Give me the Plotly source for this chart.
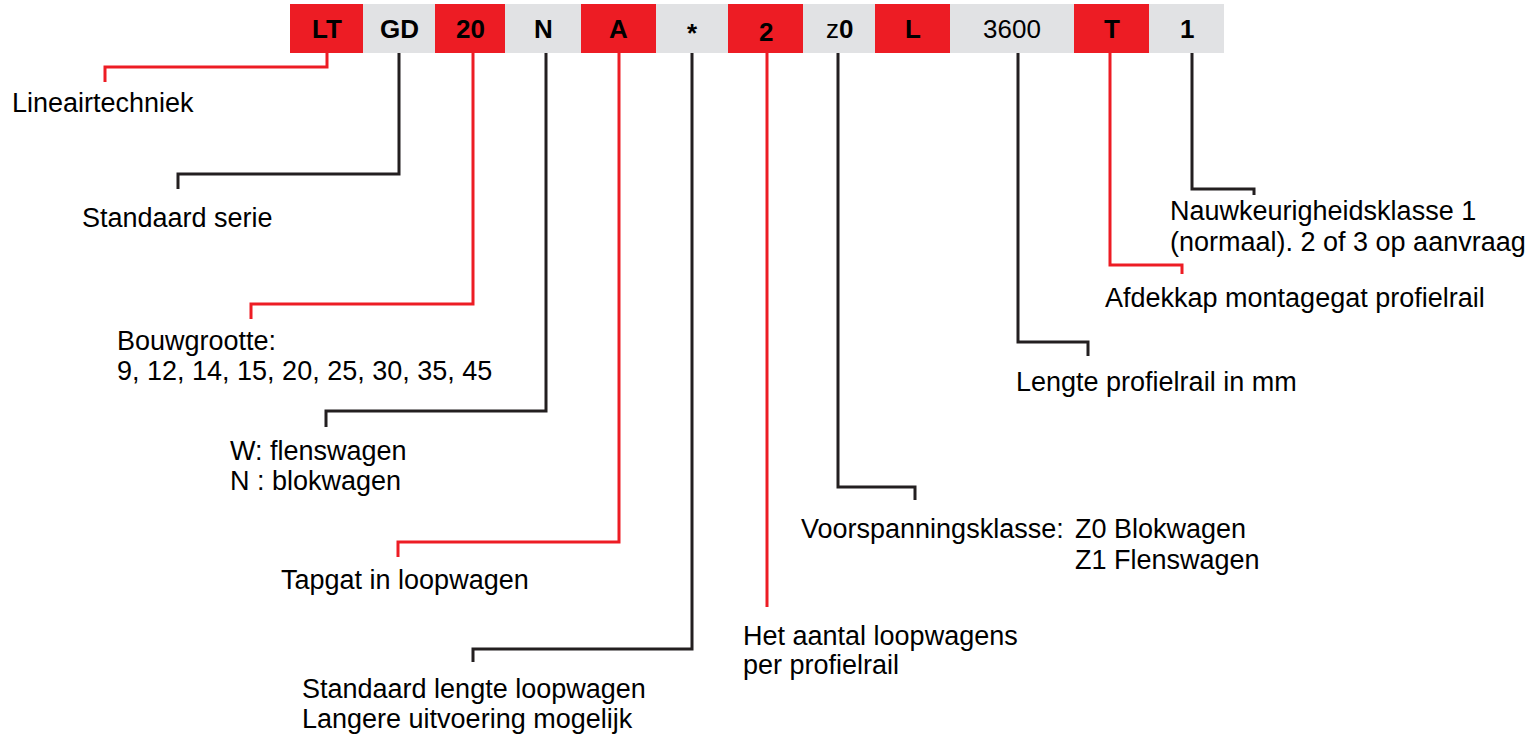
import plotly.graph_objects as go

W, H = 1534, 737

# ---- header code segments ----
codes = ["LT", "GD", "20", "N", "A", "*", "2", "z<b>0</b>", "L", "3600", "T", "1"]
code_bold = [True, True, True, True, True, True, True, False, True, False, True, True]
code_red = [True, False, True, False, True, False, True, False, True, False, True, False]
code_dy = [0, 0, 0, 0, 0, 4, 3, 0, 0, 0, 0, 0]
box_edges = [290, 363, 435, 505, 581, 656, 728, 803, 875, 950, 1074, 1149, 1224]
box_top, box_bottom = 4, 53

# ---- leader lines (one per explained code) ----
leader_x = [327, 399, 473, 546, 619, 692, 767, 838, 1018, 1110, 1192]
leader_bend_y = [67, 174, 304, 411, 542, 649, None, 487, 342, 265, 189]
leader_end_x = [105, 178, 251, 326, 398, 473, None, 915, 1088, 1182, 1254]
leader_end_y = [82, 189, 319, 427, 557, 662, 607, 500, 356, 274, 195]
leader_red = [True, False, True, False, True, False, True, False, False, True, False]

# ---- explanation labels (one entry per text line) ----
label_text = [
    "Lineairtechniek",
    "Standaard serie",
    "Bouwgrootte:",
    "9, 12, 14, 15, 20, 25, 30, 35, 45",
    "W: flenswagen",
    "N : blokwagen",
    "Tapgat in loopwagen",
    "Standaard lengte loopwagen",
    "Langere uitvoering mogelijk",
    "Het aantal loopwagens",
    "per profielrail",
    "Voorspanningsklasse:",
    "Z0 Blokwagen",
    "Z1 Flenswagen",
    "Lengte profielrail in mm",
    "Afdekkap montagegat profielrail",
    "Nauwkeurigheidsklasse 1",
    "(normaal). 2 of 3 op aanvraag",
]
label_x = [10, 80, 115, 115, 228, 228, 279, 300, 300, 741, 741, 799, 1073, 1073,
           1014, 1103, 1168, 1168]
label_y = [103, 218, 341, 371, 451, 481, 580, 689, 719, 636, 665, 529, 529, 560,
           382, 298, 211, 242]

RED = "#ED1C24"
GRAY = "#E1E2E4"
BLACK = "#231F20"
FONT = "Arial, Liberation Sans, sans-serif"

fig = go.Figure()

shapes = []
annotations = []
for i, code in enumerate(codes):
    x0, x1 = box_edges[i], box_edges[i + 1]
    shapes.append(dict(type="rect", xref="x", yref="y", x0=x0, x1=x1,
                       y0=box_top, y1=box_bottom,
                       fillcolor=RED if code_red[i] else GRAY,
                       line=dict(width=0), layer="below"))
    txt = f"<b>{code}</b>" if code_bold[i] else code
    annotations.append(dict(x=(x0 + x1) / 2, y=(box_top + box_bottom) / 2 + code_dy[i],
                            xref="x", yref="y", text=txt, showarrow=False,
                            xanchor="center", yanchor="middle",
                            font=dict(family=FONT, size=26, color="#000000")))

for i in range(len(leader_x)):
    if leader_bend_y[i] is None:
        xs = [leader_x[i], leader_x[i]]
        ys = [box_bottom, leader_end_y[i]]
    else:
        xs = [leader_x[i], leader_x[i], leader_end_x[i], leader_end_x[i]]
        ys = [box_bottom, leader_bend_y[i], leader_bend_y[i], leader_end_y[i]]
    fig.add_trace(go.Scatter(x=xs, y=ys, mode="lines",
                             line=dict(color=RED if leader_red[i] else BLACK, width=3),
                             hoverinfo="skip", showlegend=False))

for t, x, y in zip(label_text, label_x, label_y):
    annotations.append(dict(x=x, y=y, xref="x", yref="y", text=t, showarrow=False,
                            xanchor="left", yanchor="middle",
                            font=dict(family=FONT, size=27, color="#000000")))

fig.update_layout(
    width=W, height=H,
    margin=dict(l=0, r=0, t=0, b=0),
    paper_bgcolor="white", plot_bgcolor="white",
    xaxis=dict(range=[0, W], visible=False, fixedrange=True),
    yaxis=dict(range=[H, 0], visible=False, fixedrange=True),
    shapes=shapes, annotations=annotations,
    showlegend=False,
)

fig.write_html(
    "out.html",
    config={"displayModeBar": False},
    post_script="document.body.style.margin='0';document.body.style.overflow='hidden';",
)
